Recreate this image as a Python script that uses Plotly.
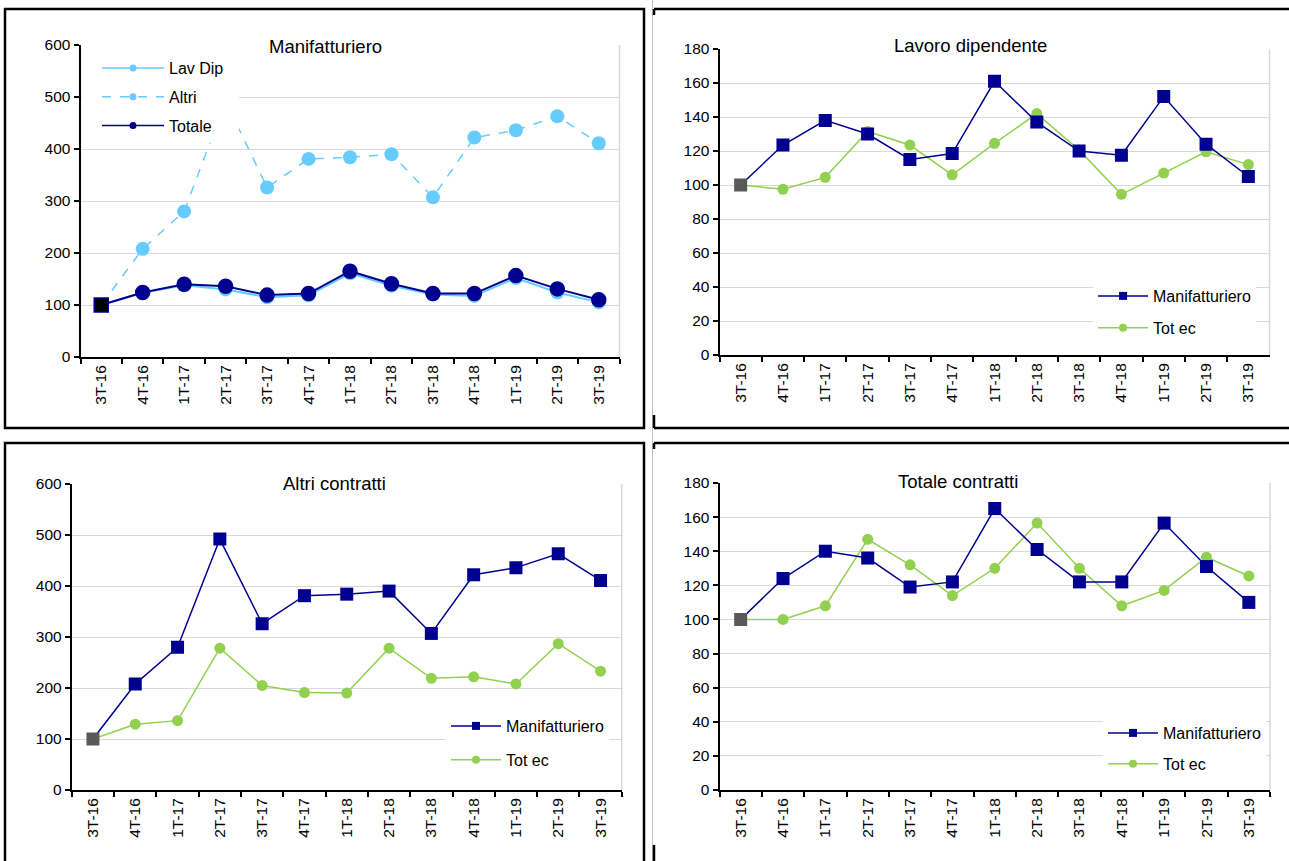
import plotly.graph_objects as go

W, H = 1289, 861

quarters = ["3T-16", "4T-16", "1T-17", "2T-17", "3T-17", "4T-17", "1T-18",
            "2T-18", "3T-18", "4T-18", "1T-19", "2T-19", "3T-19"]

# Lavoro dipendente
lav_dip_manif = [100, 123.5, 138, 130, 115, 118.5, 161, 137, 120, 117.5, 152, 124, 105]
lav_dip_totec = [100, 97.5, 104.5, 131.5, 123.5, 106, 124.5, 142, 120.5, 94.5, 107, 119.5, 112]
# Altri contratti
altri_manif = [100, 208, 280, 492, 326, 381, 384, 390, 307, 422, 436, 463, 411]
altri_totec = [100, 129, 136, 278, 205, 191, 190, 278, 219, 222, 208, 287, 233]
# Totale contratti
totale_manif = [100, 124, 140, 136, 119, 122, 165, 141, 122, 122, 156.5, 131, 110]
totale_totec = [100, 100, 108, 147, 132, 114, 130, 156.5, 130, 108, 117, 136.5, 125.5]

titles = ["Manifatturiero", "Lavoro dipendente", "Altri contratti", "Totale contratti"]
tl_names = ["Lav Dip", "Altri", "Totale"]
pair_names = ["Manifatturiero", "Tot ec"]

NAVY = "#000090"
LIGHT = "#66CCFF"
GREEN = "#92D050"
GRAY = "#595959"
GRID = "#D9D9D9"
FONT = "Liberation Sans, Arial, sans-serif"


def px(p):
    return p / W


def py(p):
    return 1 - p / H


fig = go.Figure()

n = len(quarters)

# ---------- panel 1 : Manifatturiero ----------
first_sym = ["square"] + ["circle"] * (n - 1)
fig.add_trace(go.Scatter(x=quarters, y=lav_dip_manif, mode="lines+markers", xaxis="x", yaxis="y",
                         line=dict(color=LIGHT, width=2), marker=dict(color=LIGHT, size=14),
                         showlegend=False, hoverinfo="skip"))
fig.add_trace(go.Scatter(x=quarters, y=altri_manif, mode="lines+markers", xaxis="x", yaxis="y",
                         line=dict(color=LIGHT, width=1.5, dash="dash"), marker=dict(color=LIGHT, size=14),
                         showlegend=False, hoverinfo="skip"))
fig.add_trace(go.Scatter(x=quarters, y=totale_manif, mode="lines+markers", xaxis="x", yaxis="y",
                         line=dict(color=NAVY, width=2),
                         marker=dict(color=["#000000"] + [NAVY] * (n - 1), size=14, symbol=first_sym,
                                     line=dict(color=NAVY, width=1.5)),
                         showlegend=False, hoverinfo="skip"))
tl_styles = [dict(color=LIGHT, dash="solid"), dict(color=LIGHT, dash="dash"), dict(color=NAVY, dash="solid")]
for i, (nm, st) in enumerate(zip(tl_names, tl_styles)):
    fig.add_trace(go.Scatter(x=[None], y=[None], mode="lines+markers", name=nm, xaxis="x", yaxis="y",
                             line=dict(color=st["color"], width=1.5, dash=st["dash"]),
                             marker=dict(color=st["color"], size=7), legend="legend",
                             legendgroup="tl%d" % i))

# ---------- panels 2-4 ----------
pairs = [(lav_dip_manif, lav_dip_totec), (altri_manif, altri_totec), (totale_manif, totale_totec)]
for k, (man, tot) in enumerate(pairs):
    ax = k + 2
    xa, ya, lg = "x%d" % ax, "y%d" % ax, "legend%d" % ax
    fig.add_trace(go.Scatter(x=quarters, y=tot, mode="lines+markers", xaxis=xa, yaxis=ya,
                             line=dict(color=GREEN, width=1.5),
                             marker=dict(color=GREEN, size=11), showlegend=False, hoverinfo="skip"))
    fig.add_trace(go.Scatter(x=quarters, y=man, mode="lines+markers", xaxis=xa, yaxis=ya,
                             line=dict(color=NAVY, width=1.5),
                             marker=dict(color=[GRAY] + [NAVY] * (n - 1), size=13, symbol="square"),
                             showlegend=False, hoverinfo="skip"))
    fig.add_trace(go.Scatter(x=[None], y=[None], mode="lines+markers", name=pair_names[0],
                             xaxis=xa, yaxis=ya, line=dict(color=NAVY, width=1.5),
                             marker=dict(color=NAVY, size=8, symbol="square"), legend=lg,
                             legendgroup="m%d" % ax))
    fig.add_trace(go.Scatter(x=[None], y=[None], mode="lines+markers", name=pair_names[1],
                             xaxis=xa, yaxis=ya, line=dict(color=GREEN, width=1.5),
                             marker=dict(color=GREEN, size=8), legend=lg,
                             legendgroup="g%d" % ax))

# ---------- axes ----------
panels = [
    # xl, xr, ytop, ybottom, ymax, dtick
    (80.5, 619.5, 45, 357, 600, 100),
    (719.5, 1269.5, 49, 355, 180, 20),
    (71.8, 621.7, 484, 790, 600, 100),
    (719.5, 1270, 483, 790, 180, 20),
]
layout = {}
shapes = []
TICKFONT = dict(family=FONT, size=15.5, color="black")
for i, (xl, xr, yt, yb, ymax, dt) in enumerate(panels):
    sfx = "" if i == 0 else str(i + 1)
    layout["xaxis" + sfx] = dict(
        domain=[px(xl), px(xr)], anchor="y" + sfx, type="category",
        categoryorder="array", categoryarray=quarters, range=[-0.5, n - 0.5],
        tickson="boundaries", ticks="outside", ticklen=5, tickcolor="black", tickwidth=1.5,
        tickangle=-90, showline=True, linecolor="black", linewidth=2, showgrid=False,
        tickfont=TICKFONT, fixedrange=True, automargin=False)
    layout["yaxis" + sfx] = dict(
        domain=[py(yb), py(yt)], anchor="x" + sfx, range=[0, ymax], dtick=dt,
        ticks="outside", ticklen=5, tickcolor="black", tickwidth=1.5,
        showline=True, linecolor="black", linewidth=2, showgrid=True, gridcolor=GRID,
        gridwidth=1.2, zeroline=False, tickfont=TICKFONT, fixedrange=True, automargin=False)
    # right border of plot area (light gray)
    shapes.append(dict(type="line", xref="x%s domain" % sfx, yref="y%s domain" % sfx,
                       x0=1, x1=1, y0=0, y1=1, line=dict(color=GRID, width=1.5), layer="below"))

# white legend area of the first panel (covers gridline and the hidden peak, as in the original)
shapes.append(dict(type="rect", xref="paper", yref="paper", x0=px(82), x1=px(239),
                   y0=py(130), y1=py(52), fillcolor="white", line=dict(width=0), layer="above"))

# ---------- panel borders ----------
BL = dict(color="black", width=2.5)
shapes += [
    dict(type="rect", xref="paper", yref="paper", x0=px(5), x1=px(644), y0=py(428), y1=py(9), line=BL),
    dict(type="rect", xref="paper", yref="paper", x0=px(5), x1=px(644), y0=py(900), y1=py(443), line=BL),
    dict(type="line", xref="paper", yref="paper", x0=px(652.5), x1=px(652.5), y0=0, y1=1,
         line=dict(color="#BFBFBF", width=1)),
    dict(type="line", xref="paper", yref="paper", x0=px(654), x1=px(1300), y0=py(9), y1=py(9), line=BL),
    dict(type="line", xref="paper", yref="paper", x0=px(654), x1=px(1300), y0=py(428), y1=py(428), line=BL),
    dict(type="line", xref="paper", yref="paper", x0=px(654), x1=px(654), y0=py(9), y1=py(15), line=BL),
    dict(type="line", xref="paper", yref="paper", x0=px(654), x1=px(654), y0=py(415), y1=py(428), line=BL),
    dict(type="line", xref="paper", yref="paper", x0=px(654), x1=px(1300), y0=py(443), y1=py(443), line=BL),
    dict(type="line", xref="paper", yref="paper", x0=px(654), x1=px(654), y0=py(443), y1=py(449), line=BL),
    dict(type="line", xref="paper", yref="paper", x0=px(654), x1=px(654), y0=py(845), y1=py(870), line=BL),
]

# ---------- titles ----------
title_pos = [(325, 46), (970, 45), (334, 483), (958, 482)]
annotations = []
for t, (tx, ty) in zip(titles, title_pos):
    annotations.append(dict(text=t, xref="paper", yref="paper", x=px(tx), y=py(ty),
                            xanchor="center", yanchor="middle", showarrow=False,
                            font=dict(family=FONT, size=18.5, color="black"),
                            bgcolor="white", borderpad=4))

legend_font = dict(family=FONT, size=16, color="black")
common = dict(xanchor="left", yanchor="top", bgcolor="white", font=legend_font,
              itemclick=False, itemdoubleclick=False)
layout.update(
    width=W, height=H, margin=dict(l=0, r=0, t=0, b=0, autoexpand=False),
    paper_bgcolor="white", plot_bgcolor="white",
    shapes=shapes, annotations=annotations, hovermode=False,
    legend=dict(x=px(97), y=py(51), itemwidth=62, tracegroupgap=5, **common),
    legend2=dict(x=px(1093), y=py(279), itemwidth=50, tracegroupgap=8, **common),
    legend3=dict(x=px(446), y=py(709), itemwidth=50, tracegroupgap=10, **common),
    legend4=dict(x=px(1103), y=py(716), itemwidth=50, tracegroupgap=7, **common),
)
fig.update_layout(**layout)
fig.write_html("out.html", config={"displayModeBar": False},
               post_script="document.body.style.margin='0px';")
